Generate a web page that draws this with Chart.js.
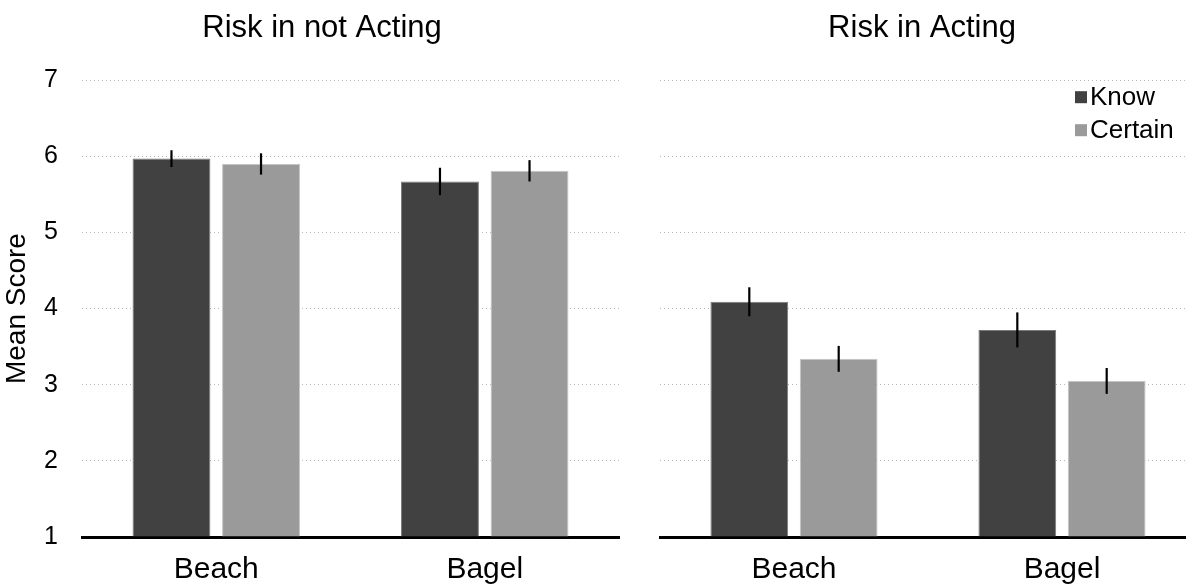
<!DOCTYPE html>
<html>
<head>
<meta charset="utf-8">
<script src="https://cdn.jsdelivr.net/npm/chart.js@4/dist/chart.umd.min.js"></script>
<style>
  html, body { margin: 0; padding: 0; background: #fff; }
  #wrap { position: relative; width: 1186px; height: 586px; overflow: hidden; }
  #left { position: absolute; left: 0; top: 0; width: 644px; height: 586px; }
  #right { position: absolute; left: 644px; top: 0; width: 556px; height: 586px; }
</style>
</head>
<body>
<div id="wrap">
  <div id="left"><canvas id="c1"></canvas></div>
  <div id="right"><canvas id="c2"></canvas></div>
</div>
<script>
// ---- data ----
const categories = ['Beach', 'Bagel'];
const seriesNames = ['Know', 'Certain'];
const panelTitles = ['Risk in not Acting', 'Risk in Acting'];
const yTicks = [1, 2, 3, 4, 5, 6, 7];
const yAxisTitle = 'Mean Score';

const notActingKnow = [5.97, 5.67];
const notActingCertain = [5.90, 5.81];
const notActingKnowErr = [0.11, 0.18];
const notActingCertainErr = [0.14, 0.14];

const actingKnow = [4.09, 3.72];
const actingCertain = [3.34, 3.05];
const actingKnowErr = [0.19, 0.23];
const actingCertainErr = [0.17, 0.17];

// ---- styles ----
const FONT = "'Liberation Sans', Arial, Helvetica, sans-serif";
const knowColor = '#414141';
const certainColor = '#999a99';

const errorBarPlugin = {
  id: 'errorBars',
  afterDatasetsDraw(chart) {
    const ctx = chart.ctx;
    const y = chart.scales.y;
    ctx.save();
    ctx.strokeStyle = '#000';
    ctx.lineWidth = 2.2;
    chart.data.datasets.forEach((ds, di) => {
      const meta = chart.getDatasetMeta(di);
      meta.data.forEach((bar, i) => {
        const v = ds.data[i], e = ds.errors[i];
        ctx.beginPath();
        ctx.moveTo(bar.x, y.getPixelForValue(v + e));
        ctx.lineTo(bar.x, y.getPixelForValue(v - e));
        ctx.stroke();
      });
    });
    ctx.restore();
  }
};

const boxLegendPlugin = {
  id: 'boxLegend',
  afterDraw(chart, args, opts) {
    if (!opts || !opts.show) return;
    const ctx = chart.ctx;
    const a = chart.chartArea;
    ctx.save();
    ctx.font = '26px ' + FONT;
    ctx.textBaseline = 'middle';
    ctx.textAlign = 'left';
    chart.data.datasets.forEach((ds, i) => {
      const cy = a.top + 17 + i * 33;
      const sx = a.right - 121;
      ctx.fillStyle = ds.backgroundColor;
      ctx.fillRect(sx, cy - 6, 12, 12);
      ctx.fillStyle = '#000';
      ctx.fillText(ds.label, sx + 15, cy + 1);
    });
    ctx.restore();
  }
};

function makeChart(canvasId, title, knowVals, knowErr, certVals, certErr, opts) {
  const isLeft = opts.left;
  return new Chart(document.getElementById(canvasId), {
    type: 'bar',
    data: {
      labels: categories,
      datasets: [
        { label: seriesNames[0], data: knowVals, errors: knowErr, base: yTicks[0],
          backgroundColor: knowColor, borderColor: '#7a7a7a', borderWidth: 1 },
        { label: seriesNames[1], data: certVals, errors: certErr, base: yTicks[0],
          backgroundColor: certainColor, borderColor: '#c4c4c4', borderWidth: 1 }
      ]
    },
    plugins: [errorBarPlugin, boxLegendPlugin],
    options: {
      responsive: true,
      maintainAspectRatio: false,
      animation: false,
      layout: { padding: 0 },
      datasets: { bar: { categoryPercentage: 0.667, barPercentage: 0.87 } },
      plugins: {
        legend: { display: false },
        tooltip: { enabled: false },
        title: {
          display: true,
          text: title,
          color: '#000',
          font: { family: FONT, size: 31, weight: 'normal' },
          padding: { top: 10, bottom: 33 }
        },
        boxLegend: { show: !isLeft }
      },
      scales: {
        x: {
          grid: { display: false },
          border: { display: true, color: '#000', width: 3 },
          ticks: { color: '#000', font: { family: FONT, size: 30 }, padding: 7 },
          afterFit: s => { s.height = 49; }
        },
        y: {
          min: yTicks[0],
          max: yTicks[yTicks.length - 1],
          afterBuildTicks: s => { s.ticks = yTicks.map(v => ({ value: v })); },
          grid: {
            color: ctx => ctx.tick && ctx.tick.value === yTicks[0] ? 'rgba(0,0,0,0)' : '#b8b8b8',
            lineWidth: 1,
            drawTicks: false
          },
          border: { display: false, dash: [1, 3] },
          ticks: {
            display: isLeft,
            color: '#000',
            font: { family: FONT, size: 25 },
            padding: 24
          },
          title: {
            display: isLeft,
            text: yAxisTitle,
            color: '#000',
            font: { family: FONT, size: 28 },
            padding: { top: 0, bottom: 0 }
          },
          afterFit: s => { s.width = isLeft ? 82 : 16; }
        },
        yr: {
          position: 'right',
          display: true,
          grid: { display: false },
          border: { display: false },
          ticks: { display: false },
          afterFit: s => { s.width = isLeft ? 25 : 4; }
        }
      }
    }
  });
}

makeChart('c1', panelTitles[0], notActingKnow, notActingKnowErr, notActingCertain, notActingCertainErr, { left: true });
makeChart('c2', panelTitles[1], actingKnow, actingKnowErr, actingCertain, actingCertainErr, { left: false });
</script>
</body>
</html>
